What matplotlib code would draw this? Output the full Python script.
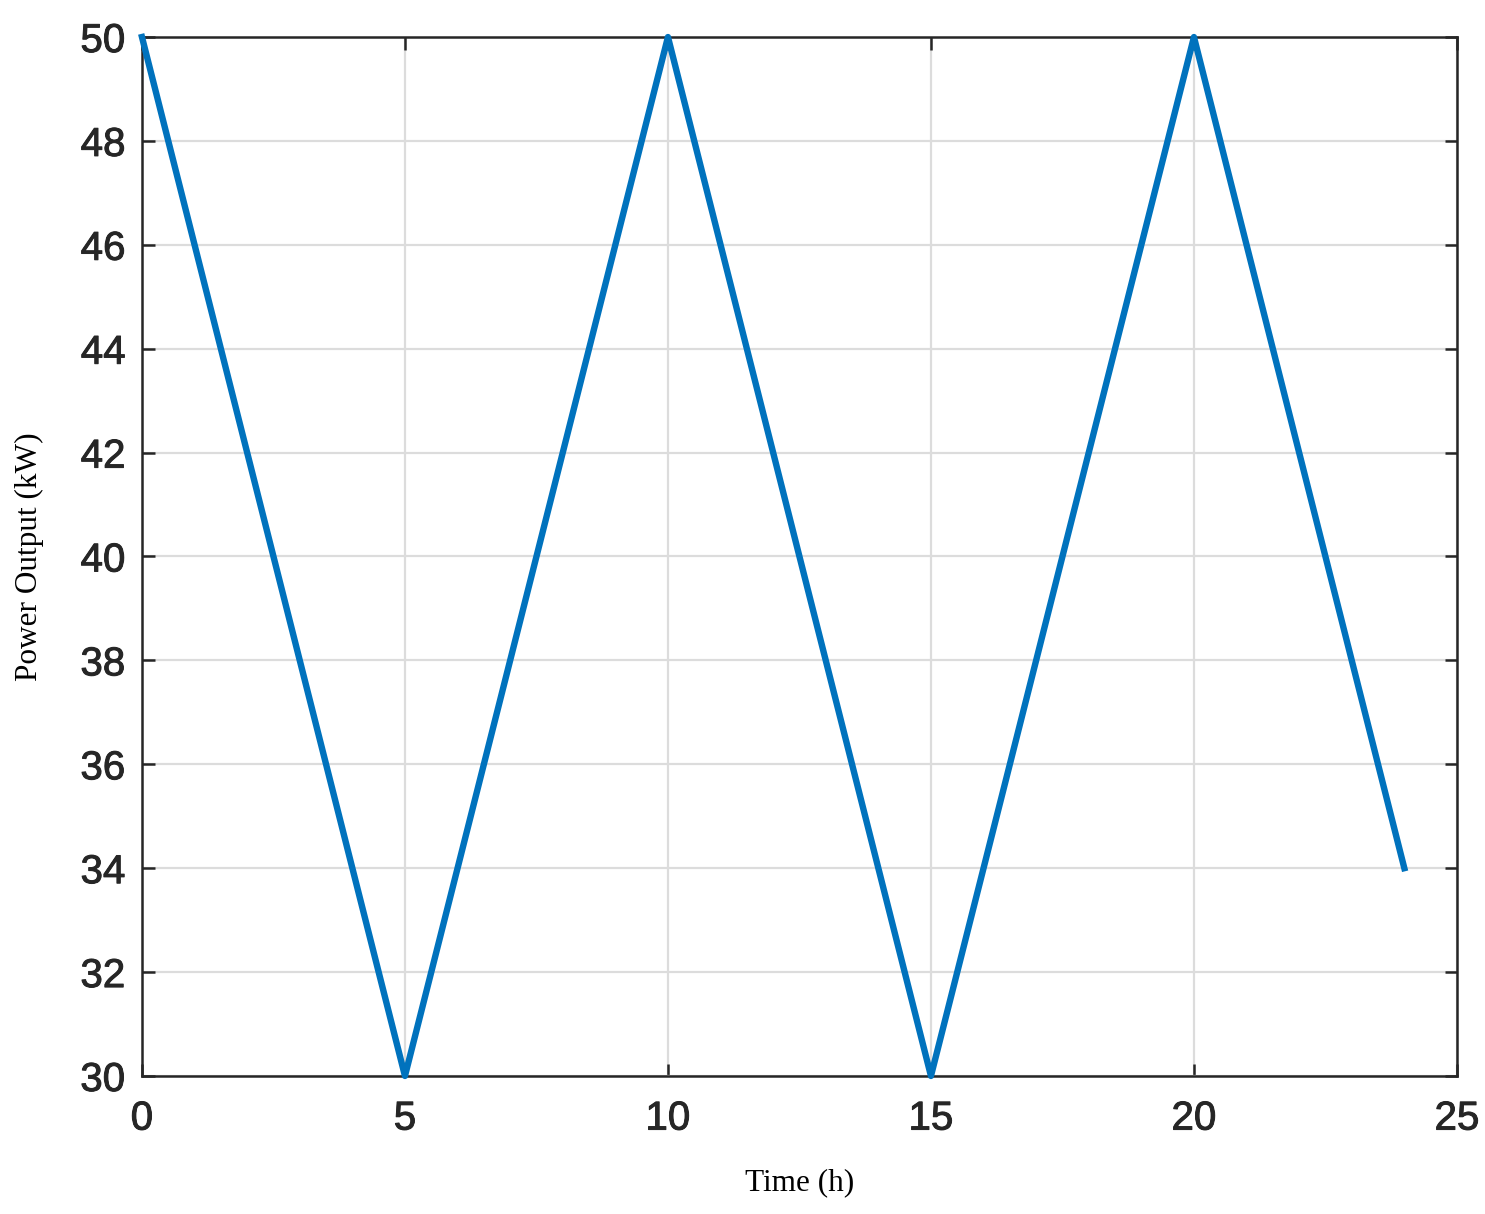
import matplotlib
matplotlib.use('Agg')
import matplotlib.pyplot as plt
import matplotlib.patheffects as pe

# hourly power output
time_h = [0, 5, 10, 15, 20, 24]
power_kw = [50, 30, 50, 30, 50, 34]

x_ticks = [0, 5, 10, 15, 20, 25]
y_ticks = [30, 32, 34, 36, 38, 40, 42, 44, 46, 48, 50]

fig = plt.figure(figsize=(14.85, 12.14), dpi=100)
ax = fig.add_axes([0.0956, 0.1137, 0.9811 - 0.0956, 0.9695 - 0.1137])

ax.plot(time_h, power_kw, color='#0072BD', linewidth=4.6, clip_on=False, zorder=3)

ax.set_xlim(0, 25)
ax.set_ylim(30, 50)
ax.set_xticks(x_ticks)
ax.set_yticks(y_ticks)
ax.grid(True, color='#DCDCDC', linewidth=1.6)
ax.set_axisbelow(True)

for sp in ax.spines.values():
    sp.set_color('#262626')
    sp.set_linewidth(1.8)

ax.tick_params(direction='in', length=9, width=1.8, color='#262626',
               top=True, right=True, labelsize=29, labelcolor='#262626')
ax.tick_params(axis='x', pad=17)
ax.tick_params(axis='y', pad=12)
# matlab's tick labels look a bit heavier than plain Liberation Sans
for lab in ax.get_xticklabels() + ax.get_yticklabels():
    lab.set_family('Liberation Sans')
    lab.set_path_effects([pe.withStroke(linewidth=0.7, foreground='#262626')])

ax.set_xlabel('Time (h)', family='Liberation Serif', fontsize=22.5, labelpad=22)
ax.set_ylabel('Power Output (kW)', family='Liberation Serif', fontsize=22.5, labelpad=26)

fig.savefig('out.png', dpi=100)
